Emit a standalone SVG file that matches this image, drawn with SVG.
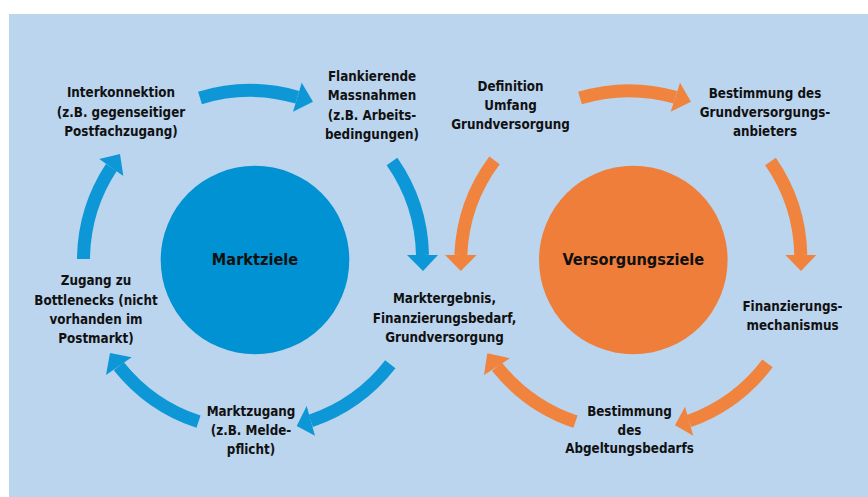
<svg xmlns="http://www.w3.org/2000/svg" width="868" height="497" viewBox="0 0 868 497">
<style>
.t{font-family:"DejaVu Sans Condensed","DejaVu Sans","Liberation Sans",sans-serif;font-stretch:condensed;font-weight:bold;font-size:13.3px;fill:#111;text-anchor:middle}
.big{font-size:16.2px}
.bb{fill:none;stroke:#0D97D6;stroke-width:13}
.ob{fill:none;stroke:#F0843E;stroke-width:13}
.bh{fill:#0D97D6}
.oh{fill:#F0843E}
</style>
<rect x="0" y="0" width="868" height="497" fill="#fff"/>
<rect x="9" y="14" width="859" height="483" fill="#BBD5EF"/>
<g id="connectors">
<path class="bb" d="M200,98 A170,170 0 0 1 297.3,97.2"/>
<polygon class="bh" points="301.7,82.7 313,101.7 293,111.7"/>
<path class="bb" d="M392,161.5 A170,170 0 0 1 422.5,255"/>
<polygon class="bh" points="407,255 423,271 438,255"/>
<path class="bb" d="M390.3,364.2 A170,170 0 0 1 310.8,420.8"/>
<polygon class="bh" points="306.7,406 296.7,426 315,435.7"/>
<path class="bb" d="M198.5,421.7 A170,170 0 0 1 118.8,366.2"/>
<polygon class="bh" points="131.7,357.3 110,353 106,375"/>
<path class="bb" d="M83.5,259 A170,170 0 0 1 111.3,167.5"/>
<polygon class="bh" points="99.3,159 120,154 123.3,176"/>
<path class="ob" d="M580,98 A170,170 0 0 1 675.3,97.2"/>
<polygon class="oh" points="680,82.7 691,101.7 670.7,111.7"/>
<path class="ob" d="M770.5,161.5 A170,170 0 0 1 800.8,255"/>
<polygon class="oh" points="785.3,255 801,271 816.3,255"/>
<path class="ob" d="M767.5,363.3 A170,170 0 0 1 689,421"/>
<polygon class="oh" points="685,406.7 675,425.3 693.3,435.7"/>
<path class="ob" d="M575.5,421.7 A170,170 0 0 1 497,366.7"/>
<polygon class="oh" points="510,358.3 487.3,353.3 484,375"/>
<path class="ob" d="M494.5,160.3 A170,170 0 0 0 460.8,255"/>
<polygon class="oh" points="445,255 460.8,271 476.7,255"/>
</g>
<g id="marktziele">
<circle cx="255" cy="260" r="94.3" fill="#0092D2"/>
<text class="t big" x="255" y="265">Marktziele</text>
</g>
<g id="versorgungsziele">
<circle cx="633.3" cy="260" r="94.3" fill="#F07E3B"/>
<text class="t big" x="633.3" y="265">Versorgungsziele</text>
</g>
<g id="interkonnektion">
<text class="t" x="121" y="97">Interkonnektion</text>
<text class="t" x="121" y="116.5">(z.B. gegenseitiger</text>
<text class="t" x="121" y="136">Postfachzugang)</text>
</g>
<g id="flankierende">
<text class="t" x="372" y="81">Flankierende</text>
<text class="t" x="372" y="100">Massnahmen</text>
<text class="t" x="372" y="119.5">(z.B. Arbeits-</text>
<text class="t" x="372" y="138.5">bedingungen)</text>
</g>
<g id="marktergebnis">
<text class="t" x="444.5" y="303">Marktergebnis,</text>
<text class="t" x="444.5" y="322.5">Finanzierungsbedarf,</text>
<text class="t" x="444.5" y="341.5">Grundversorgung</text>
</g>
<g id="marktzugang">
<text class="t" x="251" y="416">Marktzugang</text>
<text class="t" x="251" y="435">(z.B. Melde-</text>
<text class="t" x="251" y="453.5">pflicht)</text>
</g>
<g id="zugang">
<text class="t" x="96" y="285">Zugang zu</text>
<text class="t" x="96" y="304.5">Bottlenecks (nicht</text>
<text class="t" x="96" y="324">vorhanden im</text>
<text class="t" x="96" y="343">Postmarkt)</text>
</g>
<g id="definition">
<text class="t" x="510.5" y="91">Definition</text>
<text class="t" x="510.5" y="110">Umfang</text>
<text class="t" x="510.5" y="129">Grundversorgung</text>
</g>
<g id="bestimmung-anbieter">
<text class="t" x="765" y="98">Bestimmung des</text>
<text class="t" x="765" y="117">Grundversorgungs-</text>
<text class="t" x="765" y="136">anbieters</text>
</g>
<g id="finanzierung">
<text class="t" x="792.5" y="311">Finanzierungs-</text>
<text class="t" x="792.5" y="330">mechanismus</text>
</g>
<g id="abgeltung">
<text class="t" x="629.5" y="416">Bestimmung</text>
<text class="t" x="629.5" y="434.5">des</text>
<text class="t" x="629.5" y="453">Abgeltungsbedarfs</text>
</g>
</svg>
